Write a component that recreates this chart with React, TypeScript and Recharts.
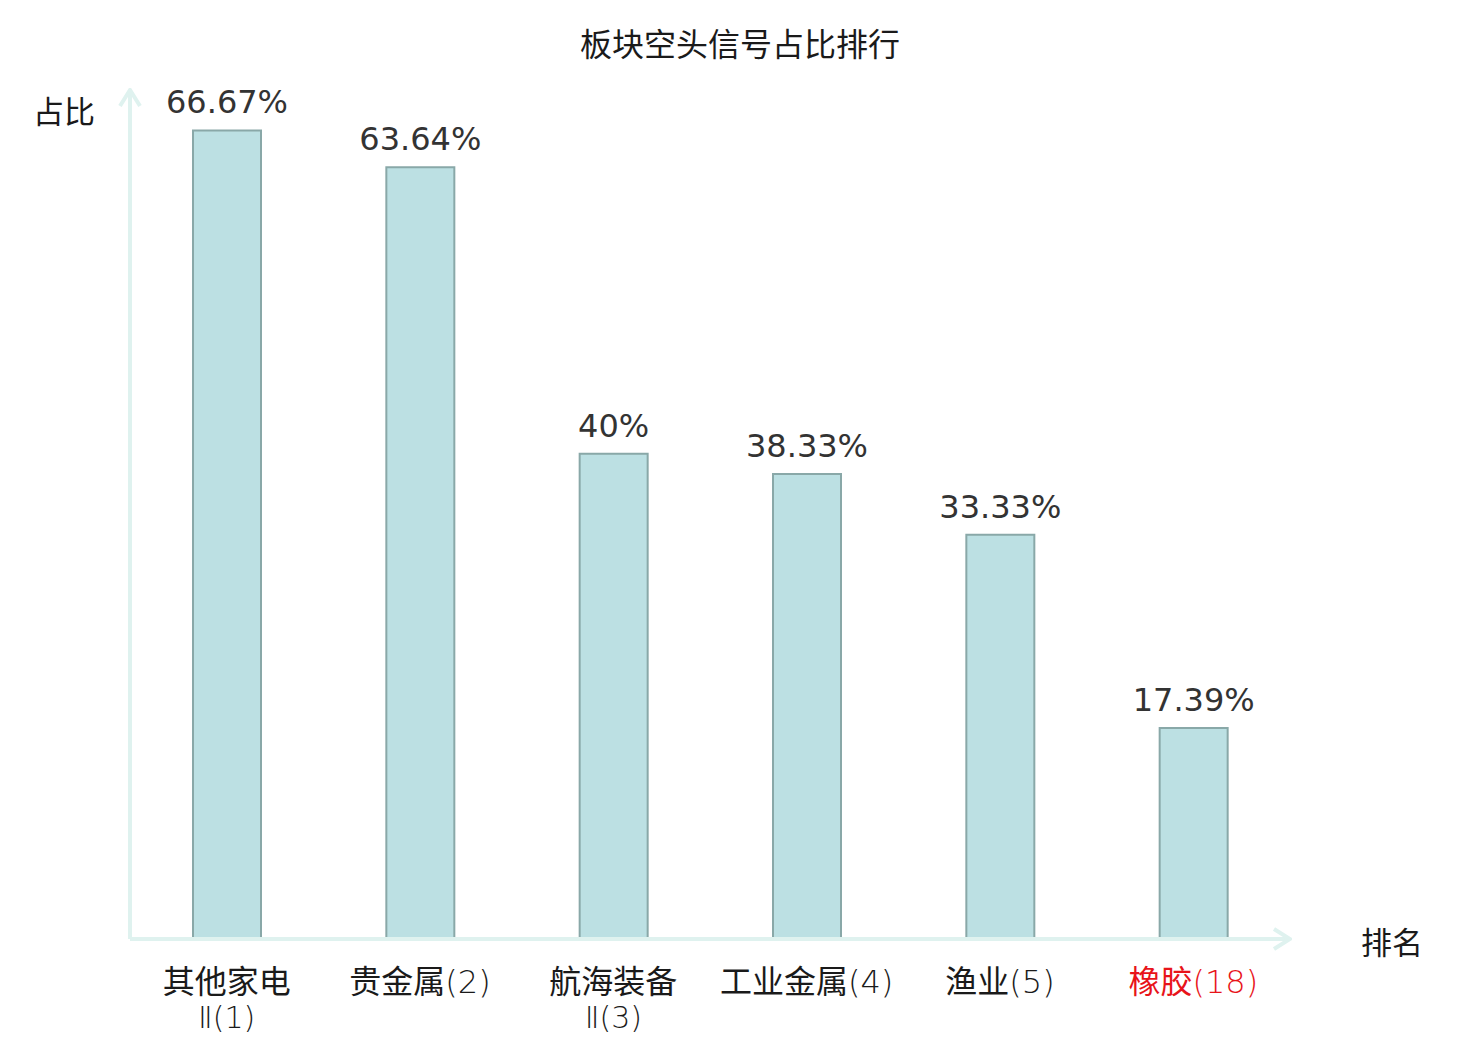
import React from "react";
import { BarChart, Bar, XAxis, YAxis, LabelList } from "recharts";

const sectors = ["其他家电Ⅱ", "贵金属", "航海装备Ⅱ", "工业金属", "渔业", "橡胶"];
const ranks = [1, 2, 3, 4, 5, 18];
const shortRatio = [66.67, 63.64, 40, 38.33, 33.33, 17.39];
const highlightRank = 18;

const data = sectors.map((name, i) => ({
  name,
  rank: ranks[i],
  ratio: shortRatio[i],
}));

const AXIS_COLOR = "#dff2ef";
const CJK = '"Noto Sans CJK SC", "DejaVu Sans", sans-serif';
const NUM = '"DejaVu Sans", "Noto Sans CJK SC", sans-serif';
const THIN = '"DejaVu Sans", sans-serif';

const SectorTick = (props: any) => {
  const { x, y, payload, index } = props;
  const row = data[index] ?? data.find((d) => d.name === payload.value);
  const name: string = row ? row.name : String(payload.value);
  const rank = row ? row.rank : "";
  const color = rank === highlightRank ? "#e8141a" : "#1a1a1a";
  // long names wrap after 4 characters
  const first = name.length > 4 ? name.slice(0, 4) : name;
  const rest = name.length > 4 ? name.slice(4) : "";
  const rankText = `(${rank})`;
  return (
    <g>
      <text x={x} y={y + 54} textAnchor="middle" fill={color} fontSize={32} fontFamily={CJK}>
        {first}
        {!rest && (
          <tspan fontFamily={THIN} fontWeight={200} fill={color}>
            {rankText}
          </tspan>
        )}
      </text>
      {rest && (
        <text x={x} y={y + 89} textAnchor="middle" fill={color} fontSize={30} fontFamily={THIN} fontWeight={200}>
          {rest + rankText}
        </text>
      )}
    </g>
  );
};

export default function App() {
  return (
    <div style={{ position: "absolute", left: 0, top: 0, width: 1480, height: 1040, background: "#fff" }}>
      <svg width={0} height={0} style={{ position: "absolute" }}>
        <defs>
          <marker
            id="axisArrow"
            markerUnits="userSpaceOnUse"
            viewBox="0 0 20 24"
            refX={18}
            refY={12}
            markerWidth={20}
            markerHeight={24}
            orient="auto-start-reverse"
          >
            <path d="M2,2 L18,12 L2,22" fill="none" stroke={AXIS_COLOR} strokeWidth={4} />
          </marker>
        </defs>
      </svg>
      <div
        style={{
          position: "absolute",
          left: 0,
          width: 1480,
          top: 21,
          textAlign: "center",
          fontFamily: CJK,
          fontSize: 32,
          color: "#1a1a1a",
          lineHeight: "42px",
        }}
      >
        板块空头信号占比排行
      </div>
      <div
        style={{ position: "absolute", left: 33, top: 89, fontFamily: CJK, fontSize: 31, color: "#1a1a1a", lineHeight: "42px" }}
      >
        占比
      </div>
      <div
        style={{ position: "absolute", left: 1361, top: 920, fontFamily: CJK, fontSize: 31, color: "#1a1a1a", lineHeight: "42px" }}
      >
        排名
      </div>
      <BarChart
        width={1480}
        height={1040}
        data={data}
        margin={{ top: 90, right: 190, bottom: 1, left: 128 }}
        barCategoryGap="32%"
      >
        <XAxis
          dataKey="name"
          height={100}
          interval={0}
          tickSize={0}
          tickMargin={0}
          tickLine={false}
          axisLine={{ stroke: AXIS_COLOR, strokeWidth: 4, markerEnd: "url(#axisArrow)" } as any}
          tick={<SectorTick />}
        />
        <YAxis
          width={2}
          domain={[0, 70]}
          tick={false}
          tickLine={false}
          axisLine={{ stroke: AXIS_COLOR, strokeWidth: 4, markerStart: "url(#axisArrow)" } as any}
        />
        <Bar
          dataKey="ratio"
          fill="#bce0e3"
          stroke="#89a8a8"
          strokeWidth={2}
          barSize={68}
          isAnimationActive={false}
        >
          <LabelList
            dataKey="ratio"
            position="top"
            offset={17}
            formatter={(v: any) => `${v}%`}
            fill="#333333"
            fontSize={32}
            fontFamily={NUM}
          />
        </Bar>
      </BarChart>
    </div>
  );
}
